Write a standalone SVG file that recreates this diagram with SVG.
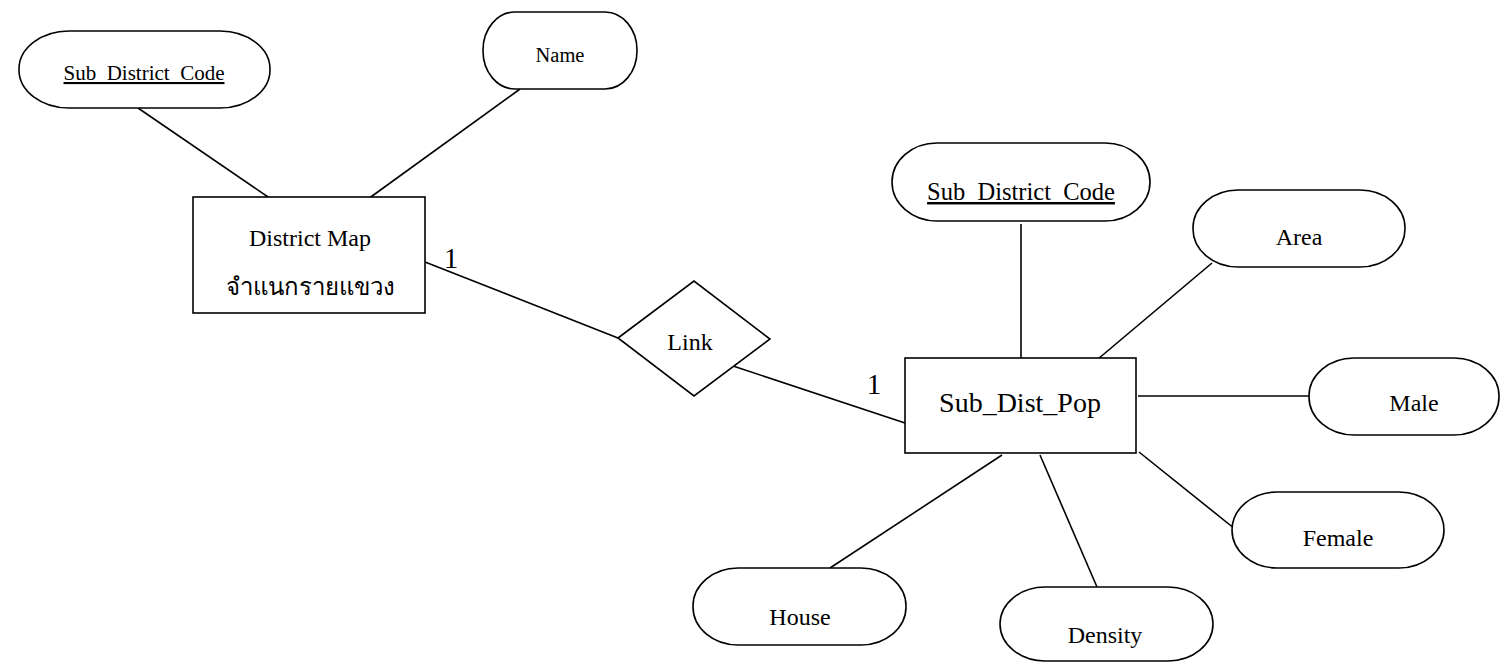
<svg xmlns="http://www.w3.org/2000/svg" width="1500" height="663" viewBox="0 0 1500 663">
<style>
.s{fill:#fff;stroke:#000;stroke-width:1.6}
.c line{stroke:#000;stroke-width:1.6}
text{font-family:"Liberation Serif","Times New Roman",serif;fill:#000;text-anchor:middle}
.u{text-decoration:underline}
</style>
<rect width="1500" height="663" fill="#fff"/>
<g id="connectors" class="c">
<line x1="138" y1="108" x2="271" y2="199"/>
<line x1="520" y1="89" x2="368" y2="199"/>
<line x1="425" y1="262" x2="618" y2="338"/>
<line x1="733" y1="366" x2="905" y2="423"/>
<line x1="1021" y1="224" x2="1021" y2="358"/>
<line x1="1212" y1="263" x2="1098" y2="359"/>
<line x1="1138" y1="396" x2="1309" y2="396"/>
<line x1="1002" y1="455" x2="830" y2="568"/>
<line x1="1040" y1="455" x2="1097" y2="587"/>
<line x1="1139" y1="452" x2="1235" y2="529"/>
<text x="451" y="268" font-size="29">1</text>
<text x="874" y="394" font-size="29">1</text>
</g>
<g id="attr-subdistcode-1"><rect class="s" x="19" y="31" width="251" height="77" rx="50" ry="38"/><text class="u" x="144" y="80" font-size="21">Sub_District_Code</text></g>
<g id="attr-name"><rect class="s" x="483" y="12" width="154" height="77" rx="32" ry="38"/><text x="560" y="62" font-size="20.5">Name</text></g>
<g id="ent-districtmap"><rect class="s" x="193" y="197" width="232" height="116"/><text x="310" y="246" font-size="24">District Map</text><text x="310" y="295" font-size="24">จำแนกรายแขวง</text></g>
<g id="rel-link"><polygon class="s" points="618,338 694,281 770,339 694,396"/><text x="690" y="350" font-size="24">Link</text></g>
<g id="ent-subdistpop"><rect class="s" x="905" y="358" width="231" height="95"/><text x="1020" y="412" font-size="28">Sub_Dist_Pop</text></g>
<g id="attr-subdistcode-2"><rect class="s" x="892" y="143" width="258" height="78" rx="45" ry="39"/><text class="u" x="1021" y="200" font-size="24.5">Sub_District_Code</text></g>
<g id="attr-area"><rect class="s" x="1193" y="190" width="212" height="77" rx="45" ry="38"/><text x="1299" y="245" font-size="24">Area</text></g>
<g id="attr-male"><rect class="s" x="1309" y="358" width="190" height="77" rx="45" ry="38"/><text x="1414" y="411" font-size="24">Male</text></g>
<g id="attr-house"><rect class="s" x="693" y="568" width="213" height="77" rx="45" ry="38"/><text x="800" y="625" font-size="24">House</text></g>
<g id="attr-density"><rect class="s" x="1000" y="587" width="213" height="74" rx="45" ry="37"/><text x="1105" y="643" font-size="24">Density</text></g>
<g id="attr-female"><rect class="s" x="1232" y="492" width="212" height="76" rx="45" ry="38"/><text x="1338" y="546" font-size="24">Female</text></g>
</svg>
